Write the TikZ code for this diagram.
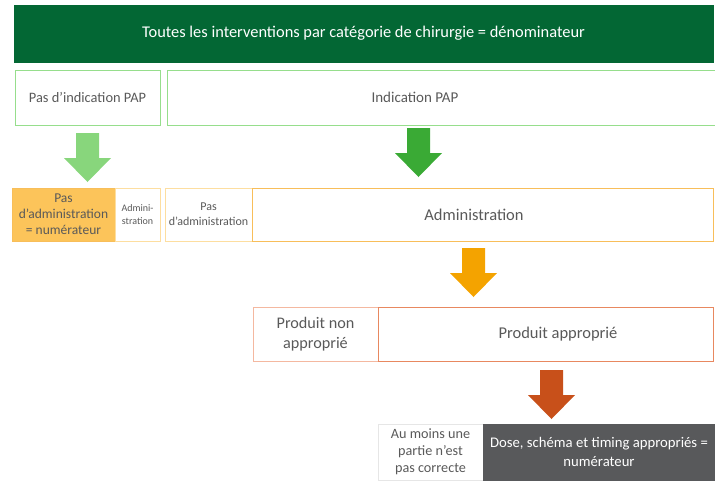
\documentclass[tikz,border=0pt]{standalone}
\usepackage{fontspec}
\setmainfont{Carlito}
\definecolor{bandeau}{RGB}{3,103,52}
\definecolor{vertclair}{RGB}{150,222,140}
\definecolor{flecheclaire}{RGB}{136,214,124}
\definecolor{flechevert}{RGB}{58,170,53}
\definecolor{orangefond}{RGB}{252,196,90}
\definecolor{orangebord}{RGB}{248,190,90}
\definecolor{orangepale}{RGB}{253,222,160}
\definecolor{flecheorange}{RGB}{244,163,0}
\definecolor{saumon}{RGB}{244,184,160}
\definecolor{rouille}{RGB}{232,136,96}
\definecolor{flecherouge}{RGB}{200,80,26}
\definecolor{grisfonce}{RGB}{88,89,91}
\definecolor{texte}{RGB}{89,89,89}

\tikzset{
  boite/.style={draw=#1, line width=1pt, rectangle, inner sep=1pt,
    align=center, text=texte},
  etiquette/.style={inner sep=0pt, align=center, text=texte},
  fleche/.style={fill=#1, draw=none}
}
% grosse fleche vers le bas : x gauche de la tete, y haut
\newcommand{\flechebas}[3]{%
  \fill[fleche=#3] (#1+12,#2) -- (#1+35,#2) -- (#1+35,#2+25) -- (#1+47,#2+25)
    -- (#1+23.5,#2+49) -- (#1,#2+25) -- (#1+12,#2+25) -- cycle;}

\begin{document}
\begin{tikzpicture}[x=1pt, y=-1pt, font=\fontsize{16.5}{19}\selectfont]
  \useasboundingbox (0,0) rectangle (715,480);

  % bandeau
  \node[boite=bandeau, fill=bandeau, text=white, minimum width=699pt, minimum height=57pt,
    font=\fontsize{16.4}{19}\selectfont] (total) at (363.5,33.5)
    {Toutes les interventions par catégorie de chirurgie = dénominateur};

  % indication
  \node[boite=vertclair, minimum width=145pt, minimum height=55pt,
    font=\fontsize{14.4}{17}\selectfont] (pasind) at (87.5,97.5)
    {Pas d’indication PAP};
  \node[boite=vertclair, minimum width=548pt, minimum height=55pt] (ind) at (441,97.5) {};
  \node[etiquette, font=\fontsize{15}{18}\selectfont] (indtxt) at (415,97.5) {Indication PAP};
  \flechebas{64}{133}{flecheclaire}
  \flechebas{395}{128}{flechevert}

  % administration
  \node[boite=orangebord, fill=orangefond, minimum width=103pt, minimum height=53pt,
    font=\fontsize{13.5}{16}\selectfont] (pasadmnum) at (63.5,214.5)
    {Pas\\d’administration\\= numérateur};
  \node[boite=orangepale, minimum width=45pt, minimum height=53pt,
    font=\fontsize{10}{13}\selectfont] (admin1) at (137.5,214.5) {Admini-\\stration};
  \node[boite=orangepale, minimum width=87pt, minimum height=53pt,
    font=\fontsize{12}{15}\selectfont] (pasadm) at (208.5,214.5) {Pas\\d’administration};
  \node[boite=orangebord, minimum width=461pt, minimum height=53pt] (adm) at (482.5,214.5) {};
  \node[etiquette] (admtxt) at (474,214.5) {Administration};
  \flechebas{450}{248}{flecheorange}

  % produit
  \node[boite=saumon, minimum width=125pt, minimum height=54pt,
    font=\fontsize{16.2}{20}\selectfont] (nonapp) at (315.5,334)
    {Produit non\\approprié};
  \node[boite=rouille, minimum width=335pt, minimum height=54pt] (app) at (545.5,334) {};
  \node[etiquette] (apptxt) at (558,334) {Produit approprié};
  \flechebas{528}{370}{flecherouge}

  % dose
  \node[boite=grisfonce!15, minimum width=105pt, minimum height=56pt,
    font=\fontsize{14.2}{17}\selectfont] (partie) at (430.5,452) {Au moins une\\partie n'est\\pas correcte};
  \node[boite=grisfonce, fill=grisfonce, text=white, minimum width=232pt, minimum height=56pt,
    font=\fontsize{14.7}{18.5}\selectfont] (dose) at (599,452)
    {Dose, schéma et timing appropriés =\\numérateur};
\end{tikzpicture}
\end{document}
